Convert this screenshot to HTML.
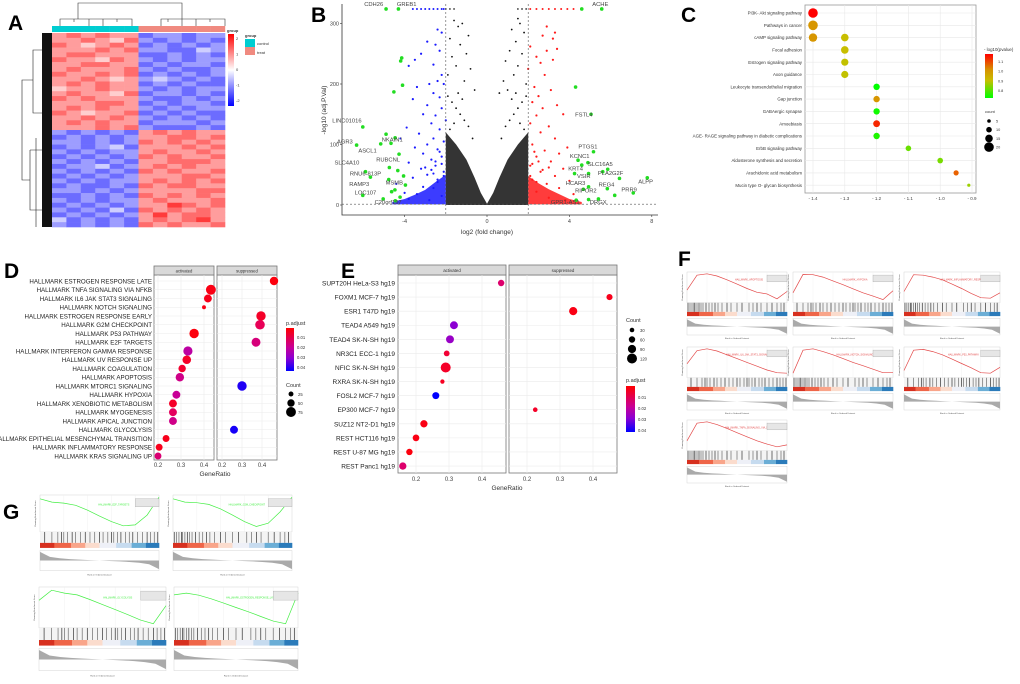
<!DOCTYPE html>
<html><head><meta charset="utf-8">
<style>
html,body{margin:0;padding:0;background:#fff;}
svg{display:block;font-family:"Liberation Sans",Arial,sans-serif;}
</style></head>
<body>
<svg id="fig" width="1020" height="684" viewBox="0 0 1020 684">
<rect width="1020" height="684" fill="#fff"/>
<g font-weight="bold" font-size="21" fill="#000">
<text x="8" y="30">A</text>
<text x="311" y="22">B</text>
<text x="681" y="22">C</text>
<text x="4" y="278">D</text>
<text x="341" y="278">E</text>
<text x="678" y="266">F</text>
<text x="3" y="519">G</text>
</g>
<g id="pA"></g>
<g id="pB"></g>
<g id="pC"></g>
<g id="pD"></g>
<g id="pE"></g>
<g id="pF"></g>
<g id="pG"></g>
</svg>
<script>
// ---------- DATA ----------
const hmRows = [
"676766122122","667657212121","765676121212","666767221132","677666112121",
"766576212122","667766121221","676667212112","766767121212","667656232121",
"676766121211","566766212122","676657122121","767666211212","666776121221",
"676766212122","765667121211","667676212121","676766122212","666767211121",
"212121676766","121212667767","221212767676","121231666767","212122676676",
"121212767667","212121667776","122312676766","212121767667","121212666776",
"212122676767","121121767766","221212666677","112121767676","212122676667",
"121212668767","212131767676","121212686776","312121676786","212121767667"];
const hmLegendTicks = [2,1,0,-1,-2];

const blueX=[-2.4,-2.2,-2.9,-2.5,-2.3,-3.8,-3.2,-3.5,-2.6,-2.2,-2.4,-2.8,-2.1,-3.4,-2.6,-2.3,-3.6,-2.9,-2.2,-3.1,-2.5,-2.0,-2.7,-3.9,-2.3,-3.3,-2.6,-4.2,-2.1,-2.9,-3.5,-2.4,-3.1,-2.2,-2.7,-3.8,-2.5,-3.2,-2.1,-2.9,-3.6,-2.4,-4.4,-3.1,-2.6,-4.0,-3.4,-2.2,-3.8,-2.8,-2.3,-2.5,-2.2,-2.7,-3.0,-2.1,-2.4,-2.6];
const blueY=[290,285,270,265,255,230,250,240,232,215,205,200,200,195,185,178,175,165,160,150,148,140,135,128,125,118,110,110,105,100,95,92,85,80,75,70,65,60,55,50,45,42,35,30,28,20,18,15,10,8,88,72,68,58,62,48,38,52];
const redX=[2.9,3.3,3.2,2.7,3.4,2.9,2.1,2.4,3.2,2.6,2.0,2.8,2.3,3.1,2.5,2.2,3.4,2.7,3.7,2.4,2.1,3.0,2.6,3.3,2.2,3.9,2.8,3.5,2.4,3.1,2.1,3.7,2.6,3.3,2.2,4.0,2.9,3.5,2.4,4.2,3.0,3.8,2.3,2.5,2.2,2.7,3.0,2.1,2.4];
const redY=[295,285,275,280,258,255,262,245,240,235,225,215,195,190,180,170,165,160,150,148,135,130,120,110,100,95,90,85,80,72,65,60,55,48,42,40,35,28,22,18,12,8,88,72,68,58,62,48,38];
const blackX=[-1.6,-1.2,-1.4,-0.9,-1.8,-1.3,-1.0,-1.7,-1.5,-0.8,-1.9,-1.1,-0.6,1.5,1.6,1.2,1.8,1.4,1.1,1.7,0.9,1.5,1.3,0.8,1.9,0.6,1.0,-1.9,-1.7,-1.5,-1.3,-1.1,-0.9,-1.8,-1.6,-1.4,-1.2,-0.7,1.9,1.7,1.5,1.3,1.1,0.9,1.8,1.6,1.4,1.2,0.7];
const blackY=[305,300,295,280,275,265,250,245,230,225,215,205,190,308,300,290,285,270,255,250,238,230,215,205,200,185,190,180,170,160,150,140,130,125,135,185,175,110,180,170,160,150,140,130,125,135,185,175,110];
const blackEnvX=[-2,-1.5,-1,-0.6,-0.3,0,0.3,0.6,1,1.5,2];
const blackEnvY=[120,100,75,45,20,2,20,45,75,100,120];
const blueEnvX=[-4.6,-4,-3.5,-3,-2.5,-2];
const blueEnvY=[5,10,17,25,38,50];
const redEnvX=[2,2.5,3,3.5,4,4.6];
const redEnvY=[48,36,26,18,10,5];
const capBlueX=[-3.6,-3.4,-3.2,-3.0,-2.8,-2.6,-2.4,-2.2,-2.1];
const capBlackX=[-2.0,-1.8,-1.6,1.5,1.7,1.9];
const capRedX=[2.1,2.4,2.7,3.0,3.3,3.6,3.9,4.2];
const greenX=[-6.03,-6.33,-5.16,-4.9,-4.46,-4.66,-4.27,-4.14,-4.19,-4.1,-4.52,-5.9,-4.74,-4.33,-5.66,-4.05,-4.77,-6.03,-5.04,-4.47,-4.63,-4.22,-4.45,-3.96,-4.9,-4.3,4.3,5.05,5.17,4.42,4.9,4.6,4.25,4.93,5.62,5.86,6.43,7.78,7.1,5.84,6.2,4.93,4.68,4.93,5.41,4.33,4.6,5.57];
const greenY=[129,99,101,117,111,102,84,243,238,198,187,55,62,57,46,48,42,16,10,25,22,13,7,33,324,324,195,150,88,74,70,66,52,52,55,59,44,45,20,27,16,30,26,9,10,8,324,324];
const geneLabels=["CDH26","GREB1","ACHE","LINC01016","AGR3","ASCL1","NKAIN1","SLC4A10","RUBCNL","RNU6-813P","RAMP3","MSMB","LOC107","C20orf197","FSTL4","PTGS1","KCNC1","SLC16A5","KRT4","VSIR","PLA2G2F","ALPP","HCAR3","REG4","PRR9","RIPOR2","GPR1-AS1","DRGX"];
const geneLabelX=[-5.5,-3.9,5.5,-6.8,-6.9,-5.8,-4.6,-6.8,-4.8,-5.9,-6.2,-4.5,-5.9,-4.8,4.7,4.9,4.5,5.5,4.3,4.7,6.0,7.7,4.3,5.8,6.9,4.8,3.8,5.4];
const geneLabelY=[327,327,327,135,100,85,103,65,70,47,30,32,16,0,145,92,76,63,55,43,48,34,31,29,21,19,0,0];
const volXTicks=[-4,0,4,8];
const volYTicks=[0,100,200,300];

const cTerms=["PI3K- Akt signaling pathway","Pathways in cancer","cAMP signaling pathway","Focal adhesion","Estrogen signaling pathway","Axon guidance","Leukocyte transendothelial migration","Gap junction","GABAergic synapse","Amoebiasis","AGE- RAGE signaling pathway in diabetic complications","ErbB signaling pathway","Aldosterone synthesis and secretion","Arachidonic acid metabolism","Mucin type O- glycan biosynthesis"];
const cRow=[0,1,2,2,3,4,5,6,7,8,9,10,11,12,13,14];
const cX=[-1.4,-1.4,-1.4,-1.3,-1.3,-1.3,-1.3,-1.2,-1.2,-1.2,-1.2,-1.2,-1.1,-1.0,-0.95,-0.91];
const cCount=[20,20,17,15,15,14,14,12,12,12,13,12,10,10,9,4];
const cP=[1.15,1.0,1.0,0.93,0.93,0.92,0.92,0.75,1.0,0.76,1.12,0.77,0.82,0.83,1.07,0.86];
const cXTicks=[-1.4,-1.3,-1.2,-1.1,-1.0,-0.9];
const cPTicks=[1.1,1.0,0.9,0.8];
const cCountTicks=[5,10,15,20];

const dTerms=["HALLMARK ESTROGEN RESPONSE LATE","HALLMARK TNFA SIGNALING VIA NFKB","HALLMARK IL6 JAK STAT3 SIGNALING","HALLMARK NOTCH SIGNALING","HALLMARK ESTROGEN RESPONSE EARLY","HALLMARK G2M CHECKPOINT","HALLMARK P53 PATHWAY","HALLMARK E2F TARGETS","HALLMARK INTERFERON GAMMA RESPONSE","HALLMARK UV RESPONSE UP","HALLMARK COAGULATION","HALLMARK APOPTOSIS","HALLMARK MTORC1 SIGNALING","HALLMARK HYPOXIA","HALLMARK XENOBIOTIC METABOLISM","HALLMARK MYOGENESIS","HALLMARK APICAL JUNCTION","HALLMARK GLYCOLYSIS","HALLMARK EPITHELIAL MESENCHYMAL TRANSITION","HALLMARK INFLAMMATORY RESPONSE","HALLMARK KRAS SIGNALING UP"];
const dRow=[0,1,2,3,4,5,6,7,8,9,10,11,12,13,14,15,16,17,18,19,20];
const dFacet=[1,0,0,0,1,1,0,1,0,0,0,0,1,0,0,0,0,1,0,0,0];
const dRatio=[0.46,0.43,0.417,0.40,0.395,0.39,0.357,0.37,0.33,0.325,0.305,0.295,0.30,0.28,0.265,0.265,0.265,0.26,0.235,0.205,0.2];
const dCount=[60,75,55,15,70,72,70,65,68,62,50,60,70,55,55,55,55,55,45,45,45];
const dPadj=[0.002,0.003,0.004,0.003,0.006,0.013,0.002,0.018,0.024,0.006,0.007,0.02,0.042,0.022,0.006,0.014,0.02,0.043,0.004,0.004,0.017];
const dXTicks=[0.2,0.3,0.4];
const dPTicks=[0.01,0.02,0.03,0.04];
const dCountTicks=[25,50,75];

const eTerms=["SUPT20H HeLa-S3 hg19","FOXM1 MCF-7 hg19","ESR1 T47D hg19","TEAD4 A549 hg19","TEAD4 SK-N-SH hg19","NR3C1 ECC-1 hg19","NFIC SK-N-SH hg19","RXRA SK-N-SH hg19","FOSL2 MCF-7 hg19","EP300 MCF-7 hg19","SUZ12 NT2-D1 hg19","REST HCT116 hg19","REST U-87 MG hg19","REST Panc1 hg19"];
const eRow=[0,1,2,3,4,5,6,7,8,9,10,11,12,13];
const eFacet=[0,1,1,0,0,0,0,0,0,1,0,0,0,0];
const eRatio=[0.458,0.45,0.34,0.315,0.303,0.293,0.29,0.28,0.26,0.225,0.224,0.2,0.18,0.16];
const eCount=[60,55,90,85,85,50,120,25,70,30,75,65,60,75];
const ePadj=[0.016,0.004,0.003,0.032,0.03,0.008,0.006,0.005,0.045,0.006,0.003,0.003,0.002,0.016];
const eXTicks=[0.2,0.3,0.4];
const eCountTicks=[30,60,90,120];
const ePTicks=[0.01,0.02,0.03,0.04];

const esF=[[0.4,0.95,1,0.92,0.78,0.62,0.46,0.32,0.26,0.08,0.35],[0.3,0.98,0.97,0.88,0.74,0.6,0.45,0.3,0.18,0.05,0.38],[0.35,0.97,0.95,0.88,0.78,0.62,0.46,0.28,0.12,0.1,0.3],[0.45,0.93,1,0.92,0.78,0.64,0.5,0.36,0.22,0.12,0.1],[0.1,0.95,1,0.9,0.78,0.64,0.5,0.38,0.25,0.12,0.12],[0.2,0.95,0.98,0.9,0.78,0.62,0.46,0.3,0.12,0.1,0.32],[0.3,0.95,1,0.9,0.76,0.6,0.45,0.3,0.18,0.08,0.15]];
const esG=[[0.95,0.85,0.82,0.75,0.6,0.42,0.25,0.12,0.15,0.45,1],[0.95,0.85,0.83,0.78,0.64,0.45,0.25,0.1,0.2,0.55,1],[0.7,0.98,0.9,0.85,0.72,0.58,0.44,0.3,0.15,0.05,0.55],[0.85,0.9,0.84,0.74,0.62,0.5,0.38,0.25,0.12,0.05,0.9]];
const esLabelsF=["HALLMARK_APOPTOSIS","HALLMARK_HYPOXIA","HALLMARK_INFLAMMATORY_RESPONSE","HALLMARK_IL6_JAK_STAT3_SIGNALING","HALLMARK_NOTCH_SIGNALING","HALLMARK_P53_PATHWAY","HALLMARK_TNFA_SIGNALING_VIA_NFKB"];
const esLabelsG=["HALLMARK_E2F_TARGETS","HALLMARK_G2M_CHECKPOINT","HALLMARK_GLYCOLYSIS","HALLMARK_ESTROGEN_RESPONSE_LATE"];
const hitsA=[0.01,0.03,0.05,0.07,0.08,0.1,0.12,0.14,0.16,0.19,0.22,0.25,0.28,0.31,0.35,0.4,0.44,0.5,0.55,0.62,0.66,0.7,0.74,0.8,0.85,0.9,0.94,0.97];
const hitsB=[0.04,0.1,0.15,0.18,0.2,0.23,0.27,0.3,0.34,0.38,0.42,0.46,0.5,0.53,0.57,0.6,0.62,0.65,0.68,0.72,0.75,0.78,0.82,0.86,0.9,0.93,0.96,0.99];
const rankCurve=[0.95,0.4,0.25,0.16,0.1,0.05,0,-0.05,-0.1,-0.16,-0.25,-0.42,-0.95];
const barColors=["#d7301f","#ef6548","#f9a58a","#fbdccd","#eef0f7","#c6dbef","#6baed6","#2b7bba"];
const barFrac=[0.12,0.14,0.12,0.12,0.14,0.13,0.12,0.11];

// ---------- HELPERS ----------
const NS="http://www.w3.org/2000/svg";
function mk(p,tag,a){const e=document.createElementNS(NS,tag);for(const k in a)e.setAttribute(k,a[k]);p.appendChild(e);return e;}
function txt(p,x,y,s,size,anchor,fill){const t=mk(p,'text',{x:x,y:y,'font-size':size,'text-anchor':anchor||'start',fill:fill||'#333'});t.textContent=s;return t;}
function lerpStops(stops,v){if(v<=stops[0][0])return stops[0][1];for(let i=1;i<stops.length;i++){if(v<=stops[i][0]){const a=stops[i-1],b=stops[i],f=(v-a[0])/(b[0]-a[0]);return 'rgb('+a[1].map((c,j)=>Math.round(c+(b[1][j]-c)*f)).join(',')+')';}}return 'rgb('+stops[stops.length-1][1].join(',')+')';}
function fix(c){return typeof c==='string'?c:'rgb('+c.join(',')+')';}
const padjStops=[[0,[255,0,0]],[0.012,[235,0,80]],[0.022,[200,0,150]],[0.032,[140,0,210]],[0.045,[0,0,255]]];
function padjCol(v){return fix(lerpStops(padjStops,v));}
const pvStops=[[0.75,[0,255,0]],[0.85,[150,210,0]],[0.93,[200,190,0]],[1.0,[215,150,0]],[1.08,[235,90,0]],[1.15,[255,0,0]]];
function pvCol(v){return fix(lerpStops(pvStops,v));}

// ---------- A: HEATMAP ----------
(function(){
const g=document.getElementById('pA');
const x0=52,x1=225,y0=33,y1=227;const nC=12,nR=hmRows.length;
const cw=(x1-x0)/nC,rh=(y1-y0)/nR;
const hcol=v=>{v=Math.max(-2,Math.min(2,v));if(v>=0){const f=v/2;return 'rgb(255,'+Math.round(255*(1-f))+','+Math.round(255*(1-f))+')';}const f=-v/2;return 'rgb('+Math.round(255*(1-f))+','+Math.round(255*(1-f))+',255)';};
hmRows.forEach((row,r)=>{for(let c=0;c<nC;c++){const v=(parseInt(row[c])-4)/2.6;
const cell=mk(g,'rect',{x:x0+c*cw,y:y0+r*rh,width:cw+0.3,height:rh+0.3,fill:hcol(v)});

}});
for(let c=0;c<nC;c++){const b=mk(g,'rect',{x:x0+c*cw,y:26,width:cw+0.2,height:6,fill:c<6?'#00cdd1':'#f08a80'});

}
const leaf=mk(g,'rect',{x:42,y:y0,width:10,height:y1-y0,fill:'#111'});


const rd=mk(g,'path',{d:`M42 50H33V113H42M33 80H22V180H30M30 150V210H42M30 150H42M36 138V227`,fill:'none',stroke:'#222','stroke-width':0.6});


const cd=mk(g,'path',{d:`M78 19V3H182V19M60 26V19H132V26M89 19V26M74 19V22M103 19V26M117 19V22M161 26V19H225V26M182 19V26M168 19V22M196 19V26M210 19V22`,fill:'none',stroke:'#333','stroke-width':0.6});


const defs=mk(g,'defs',{});const lg=mk(defs,'linearGradient',{id:'hmg',x1:0,y1:0,x2:0,y2:1});
mk(lg,'stop',{offset:0,'stop-color':'#f00'});mk(lg,'stop',{offset:0.5,'stop-color':'#fff'});mk(lg,'stop',{offset:1,'stop-color':'#00f'});
const cb=mk(g,'rect',{x:228,y:34,width:6,height:72,fill:'url(#hmg)'});


hmLegendTicks.forEach((v,i)=>{const t=txt(g,236,40+i*15.5,String(v),4,'start','#333');

});
txt(g,227,32,'group',4,'start','#333').setAttribute('font-weight','bold');
txt(g,245,37,'group',4,'start','#333').setAttribute('font-weight','bold');
const l1=mk(g,'rect',{x:245,y:39,width:10,height:8,fill:'#00cdd1'});


const l2=mk(g,'rect',{x:245,y:47,width:10,height:8,fill:'#f08a80'});


txt(g,257,45,'control',4);txt(g,257,54,'treat',4);
})();

// ---------- B: VOLCANO ----------
(function(){
const g=document.getElementById('pB');
const vx=v=>487+v*20.6, vy=v=>205-v*0.605;
const ax=mk(g,'path',{d:'M342 4V215H658',fill:'none',stroke:'#333','stroke-width':0.8});


volXTicks.forEach(v=>{mk(g,'line',{x1:vx(v),x2:vx(v),y1:215,y2:217,stroke:'#333','stroke-width':0.6});
const t=txt(g,vx(v),223,String(v),5.5,'middle','#444');

});
volYTicks.forEach(v=>{mk(g,'line',{x1:340,x2:342,y1:vy(v),y2:vy(v),stroke:'#333','stroke-width':0.6});
const t=txt(g,339,vy(v)+2,String(v),5.5,'end','#444');

});
const xl=txt(g,487,234,'log2 (fold change)',6.5,'middle','#333');


const yl=txt(g,0,0,'-log10 (adj.P.Val)',6.5,'middle','#333');yl.setAttribute('transform','translate(326,110) rotate(-90)');


function env(xs,ys,base,fill,op,name){let d='M'+vx(xs[0])+' '+vy(base);xs.forEach((x,i)=>{d+='L'+vx(x)+' '+vy(ys[i]);});d+='L'+vx(xs[xs.length-1])+' '+vy(base)+'Z';
const p=mk(g,'path',{d:d,fill:fill,'fill-opacity':op});}
env(blackEnvX,blackEnvY,0,'#111',0.85,'dense-nonsig-points');
env(blueEnvX,blueEnvY,1,'#1a1aff',0.85,'dense-down-points');
env(redEnvX,redEnvY,1,'#ff1a1a',0.85,'dense-up-points');
function pts(xs,ys,col,r,name){xs.forEach((x,i)=>{const c=mk(g,'circle',{cx:vx(x),cy:vy(ys[i]),r:r,fill:col});

});}
pts(blackX,blackY,'#111',0.9,'nonsig-point');
pts(blueX,blueY,'#1a1aff',1.1,'down-point');
pts(redX,redY,'#ff1a1a',1.1,'up-point');
pts(capBlueX,capBlueX.map(()=>324),'#1a1aff',1,'down-point-capped');
pts(capBlackX,capBlackX.map(()=>324),'#111',0.8,'nonsig-point-capped');
pts(capRedX,capRedX.map(()=>324),'#ff1a1a',1,'up-point-capped');
pts(greenX,greenY,'#22dd22',1.8,'labeled-gene-point');
[-2,2].forEach(v=>{const l=mk(g,'line',{x1:vx(v),x2:vx(v),y1:4,y2:215,stroke:'#555','stroke-width':0.6,'stroke-dasharray':'2,2'});

});
const h=mk(g,'line',{x1:342,x2:658,y1:vy(1.3),y2:vy(1.3),stroke:'#555','stroke-width':0.6,'stroke-dasharray':'2,2'});


geneLabels.forEach((s,i)=>{const t=txt(g,vx(geneLabelX[i]),vy(geneLabelY[i])-1,s,5.8,'middle','#444');

});
})();

// ---------- C: KEGG DOTPLOT ----------
(function(){
const g=document.getElementById('pC');
const cx=v=>813+(v+1.4)*318, cy=i=>13+i*12.3;
const fr=mk(g,'rect',{x:805,y:5,width:171,height:188,fill:'#fff',stroke:'#999','stroke-width':0.8});


cXTicks.forEach(v=>{mk(g,'line',{x1:cx(v),x2:cx(v),y1:5,y2:193,stroke:'#e8e8e8','stroke-width':0.6});
const t=txt(g,cx(v),200,String(v.toFixed(1)).replace('-','- '),4.5,'middle','#444');

});
cTerms.forEach((s,i)=>{mk(g,'line',{x1:805,x2:976,y1:cy(i),y2:cy(i),stroke:'#e8e8e8','stroke-width':0.6});
const t=txt(g,802,cy(i)+1.6,s,4.4,'end','#333');

});
cX.forEach((v,i)=>{const c=mk(g,'circle',{cx:cx(v),cy:cy(cRow[i]),r:0.8+cCount[i]*0.2,fill:pvCol(cP[i])});

});
txt(g,984,51,'- log10(pvalue)',4.4);
const defs=mk(g,'defs',{});const lg=mk(defs,'linearGradient',{id:'cg',x1:0,y1:0,x2:0,y2:1});
mk(lg,'stop',{offset:0,'stop-color':'#f00'});mk(lg,'stop',{offset:0.35,'stop-color':'#d79000'});mk(lg,'stop',{offset:0.6,'stop-color':'#c8be00'});mk(lg,'stop',{offset:1,'stop-color':'#00ff00'});
const cb=mk(g,'rect',{x:985,y:54,width:8,height:44,fill:'url(#cg)'});


cPTicks.forEach((v,i)=>{txt(g,998,63+i*9.7,v.toFixed(1),3.8);});
txt(g,985,113,'count',4);
cCountTicks.forEach((v,i)=>{const c=mk(g,'circle',{cx:989,cy:121+i*8.7,r:0.8+v*0.2,fill:'#000'});


txt(g,996,122.5+i*8.7,String(v),3.8);});
})();

// ---------- D: HALLMARK DOTPLOT ----------
(function(){
const g=document.getElementById('pD');
const facets=[{x0:154,x1:214,s:158,k:230,name:'activated'},{x0:217,x1:277,s:222,k:200,name:'suppressed'}];
const dy=i=>281+i*8.75;
facets.forEach(f=>{
const fr=mk(g,'rect',{x:f.x0,y:275,width:f.x1-f.x0,height:185,fill:'#fff',stroke:'#777','stroke-width':0.8});


const st=mk(g,'rect',{x:f.x0,y:266,width:f.x1-f.x0,height:9,fill:'#d9d9d9',stroke:'#777','stroke-width':0.8});


txt(g,(f.x0+f.x1)/2,272.5,f.name,4.2,'middle','#333');
dXTicks.forEach(v=>{const x=f.s+(v-0.2)*f.k;mk(g,'line',{x1:x,x2:x,y1:275,y2:460,stroke:'#ebebeb','stroke-width':0.6});
const t=txt(g,x,467,v.toFixed(1),6,'middle','#444');

});
dTerms.forEach((s,i)=>mk(g,'line',{x1:f.x0,x2:f.x1,y1:dy(i),y2:dy(i),stroke:'#ebebeb','stroke-width':0.6}));});
dTerms.forEach((s,i)=>{const t=txt(g,152,dy(i)+2.3,s,6.2,'end','#222');

});
dRatio.forEach((v,i)=>{const f=facets[dFacet[i]];const c=mk(g,'circle',{cx:f.s+(v-0.2)*f.k,cy:dy(dRow[i]),r:1.2+dCount[i]*0.05,fill:padjCol(dPadj[i])});

});
const xt=txt(g,215,476,'GeneRatio',6.5,'middle','#333');


txt(g,286,325,'p.adjust',5.5);
const defs=mk(g,'defs',{});const lg=mk(defs,'linearGradient',{id:'pg',x1:0,y1:0,x2:0,y2:1});
mk(lg,'stop',{offset:0,'stop-color':'#f00'});mk(lg,'stop',{offset:0.45,'stop-color':'#c80096'});mk(lg,'stop',{offset:0.7,'stop-color':'#8c00d2'});mk(lg,'stop',{offset:1,'stop-color':'#00f'});
const cb=mk(g,'rect',{x:286,y:328,width:8,height:43,fill:'url(#pg)'});


dPTicks.forEach((v,i)=>txt(g,297,339+i*10,String(v),4.2));
txt(g,286,387,'Count',5.5);
dCountTicks.forEach((v,i)=>{const c=mk(g,'circle',{cx:291,cy:394+i*9,r:1.2+v*0.05,fill:'#000'});


txt(g,298,396+i*9,String(v),4.2);});
})();

// ---------- E: TF DOTPLOT ----------
(function(){
const g=document.getElementById('pE');
const facets=[{x0:398,x1:506,s:416,k:330,name:'activated'},{x0:509,x1:617,s:527,k:330,name:'suppressed'}];
const ey=i=>283+i*14.08;
facets.forEach(f=>{
const fr=mk(g,'rect',{x:f.x0,y:275,width:f.x1-f.x0,height:198,fill:'#fff',stroke:'#777','stroke-width':0.8});


const st=mk(g,'rect',{x:f.x0,y:265,width:f.x1-f.x0,height:10,fill:'#d9d9d9',stroke:'#777','stroke-width':0.8});


txt(g,(f.x0+f.x1)/2,272,f.name,4.4,'middle','#333');
eXTicks.forEach(v=>{const x=f.s+(v-0.2)*f.k;mk(g,'line',{x1:x,x2:x,y1:275,y2:473,stroke:'#ebebeb','stroke-width':0.6});
const t=txt(g,x,481,v.toFixed(1),6,'middle','#444');

});
for(let i=0;i<14;i++)mk(g,'line',{x1:f.x0,x2:f.x1,y1:ey(i),y2:ey(i),stroke:'#ebebeb','stroke-width':0.6});});
eTerms.forEach((s,i)=>{const t=txt(g,395,ey(eRow[i])+2.5,s,6.5,'end','#222');

});
eRatio.forEach((v,i)=>{const f=facets[eFacet[i]];const c=mk(g,'circle',{cx:f.s+(v-0.2)*f.k,cy:ey(eRow[i]),r:1.4+eCount[i]*0.03,fill:padjCol(ePadj[i])});

});
const xt=txt(g,507,490,'GeneRatio',6.5,'middle','#333');


txt(g,626,322,'Count',5.5);
eCountTicks.forEach((v,i)=>{const c=mk(g,'circle',{cx:632,cy:330+i*9.5,r:1.4+v*0.03,fill:'#000'});


txt(g,640,332+i*9.5,String(v),4.2);});
txt(g,626,382,'p.adjust',5.5);
const cb=mk(g,'rect',{x:626,y:386,width:9,height:46,fill:'url(#pg)'});


ePTicks.forEach((v,i)=>txt(g,638,399+i*11,String(v),4.2));
})();

// ---------- GSEA MINI ----------
function gsea(g,bx,by,bw,bh,es,col,label,hits,name){
const sub=mk(g,'g',{});


const hES=bh*0.44,yB=by+hES,hB=bh*0.13,yC=yB+hB,hC=bh*0.06,yR=yC+hC+bh*0.03,hR=bh*0.24;
mk(sub,'rect',{x:bx,y:by,width:bw,height:hES,fill:'#fff',stroke:'#ccc','stroke-width':0.4});
for(let k=1;k<5;k++)mk(sub,'line',{x1:bx+bw*k/5,x2:bx+bw*k/5,y1:by,y2:by+hES,stroke:'#eee','stroke-width':0.4});
let d='';es.forEach((v,i)=>{d+=(i?'L':'M')+(bx+bw*i/(es.length-1)).toFixed(1)+' '+(by+hES*0.06+(1-v)*hES*0.88).toFixed(1);});
const cv=mk(sub,'path',{d:d,fill:'none',stroke:col,'stroke-width':0.7});


const lb=txt(sub,bx+bw*0.62,by+hES*0.28,label,2.4,'middle',col);


mk(sub,'rect',{x:bx+bw*0.8,y:by+hES*0.1,width:bw*0.2,height:hES*0.22,fill:'#e6e6e6',stroke:'#999','stroke-width':0.3});
mk(sub,'rect',{x:bx,y:yB,width:bw,height:hB,fill:'#f4f4f4'});
hits.forEach((h,i)=>{const l=mk(sub,'line',{x1:bx+h*bw,x2:bx+h*bw,y1:yB,y2:yB+hB,stroke:i%3?'#555':'#111','stroke-width':0.6});

});
let acc=0;barColors.forEach((c,i)=>{mk(sub,'rect',{x:bx+acc*bw,y:yC,width:barFrac[i]*bw+0.3,height:hC,fill:c});acc+=barFrac[i];});
mk(sub,'rect',{x:bx,y:yR,width:bw,height:hR,fill:'#fff',stroke:'#ccc','stroke-width':0.4});
let rp='M'+bx+' '+(yR+hR/2);rankCurve.forEach((v,i)=>{rp+='L'+(bx+bw*i/(rankCurve.length-1)).toFixed(1)+' '+(yR+hR/2-v*hR*0.45).toFixed(1);});rp+='L'+(bx+bw)+' '+(yR+hR/2)+'Z';
const ra=mk(sub,'path',{d:rp,fill:'#aaa'});


txt(sub,bx+bw/2,yR+hR+bh*0.06,'Rank in Ordered Dataset',2.2,'middle','#555');
const yt=txt(sub,0,0,'Running Enrichment Score',2.2,'middle','#555');yt.setAttribute('transform',`translate(${bx-4},${by+hES/2}) rotate(-90)`);
}
(function(){const g=document.getElementById('pF');
const cols=[687,793,904],rows=[272,347,420],w=[100,100,96],h=70;
esF.forEach((es,i)=>{const c=i%3,r=Math.floor(i/3);gsea(g,cols[c],rows[r],w[c],h,es,'#e34a4a',esLabelsF[i],i%2?hitsB:hitsA,'gsea-plot-up');});
})();
(function(){const g=document.getElementById('pG');
const boxes=[[40,495,119,84],[173,495,119,84],[39,587,127,93],[174,587,124,93]];
esG.forEach((es,i)=>{const b=boxes[i];gsea(g,b[0],b[1],b[2],b[3],es,'#44ee44',esLabelsG[i],i%2?hitsA:hitsB,'gsea-plot-down');});
})();
</script>
</body></html>
